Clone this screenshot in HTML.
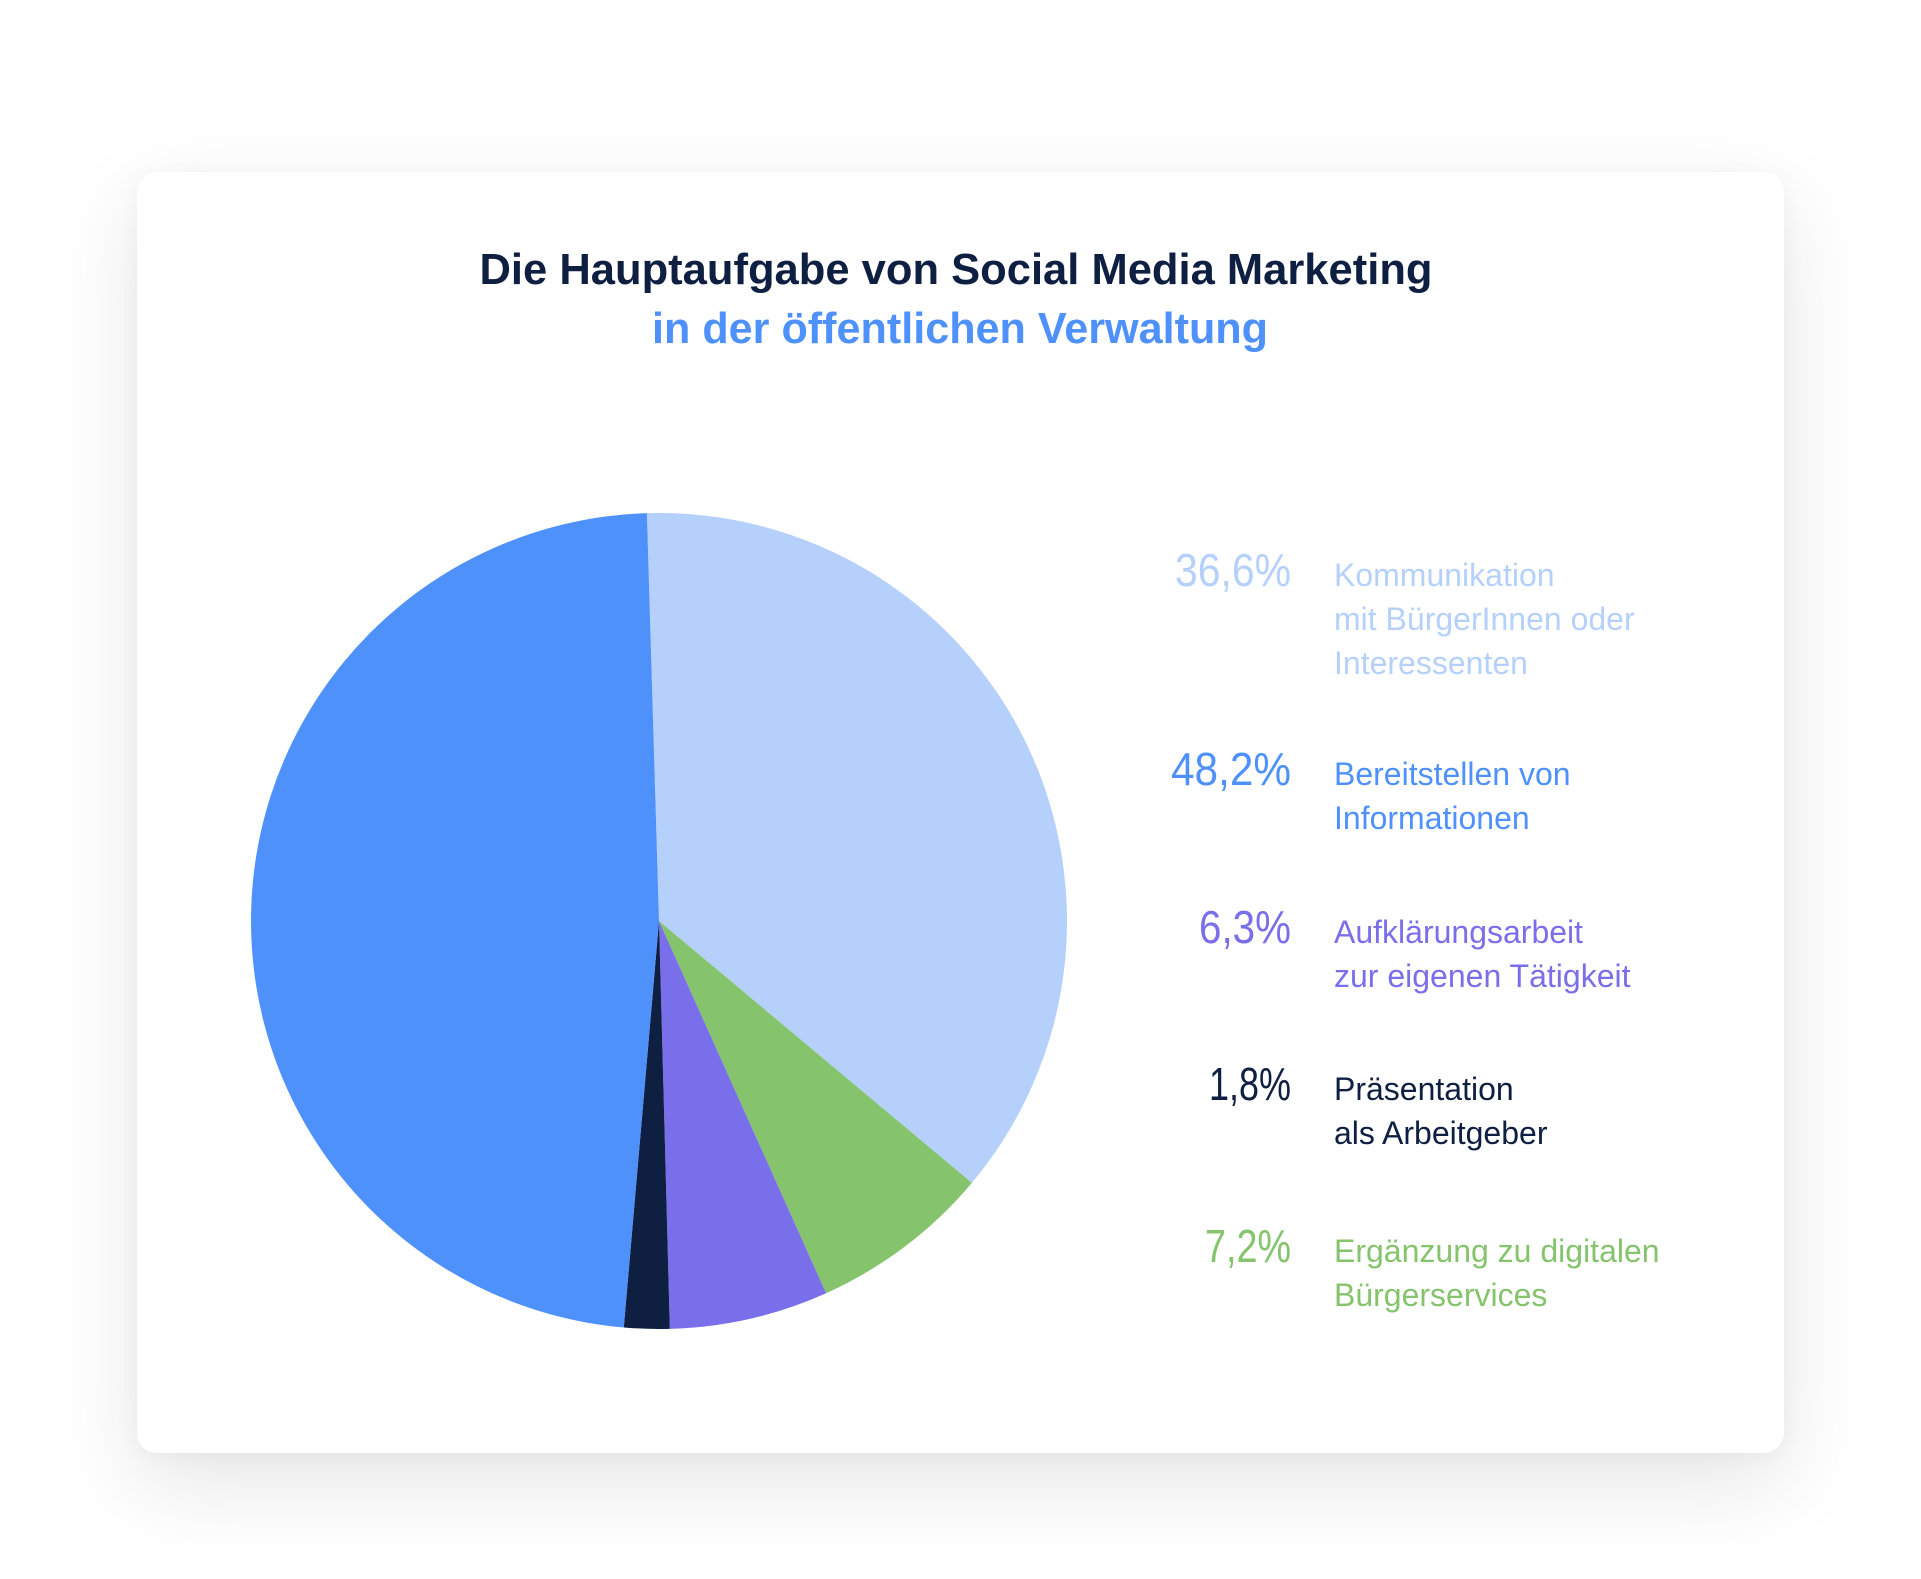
<!DOCTYPE html>
<html><head><meta charset="utf-8"><style>
html,body{margin:0;padding:0;background:#fff;}
body{width:1921px;height:1579px;position:relative;overflow:hidden;font-family:"Liberation Sans",sans-serif;}
#card{position:absolute;left:137px;top:172px;width:1647px;height:1281px;background:#fff;border-radius:20px;box-shadow:0 30px 90px rgba(0,0,0,0.10),0 4px 20px rgba(0,0,0,0.04);}
svg{position:absolute;left:0;top:0;}
</style></head><body>
<div id="card"></div>
<svg id="chart" width="1921" height="1579">
<text x="956" y="284" text-anchor="middle" font-family="Liberation Sans, sans-serif" font-weight="bold" font-size="44" fill="#0e1f42" textLength="953" lengthAdjust="spacingAndGlyphs">Die Hauptaufgabe von Social Media Marketing</text>
<text x="960" y="343" text-anchor="middle" font-family="Liberation Sans, sans-serif" font-weight="bold" font-size="44" fill="#4f91fb" textLength="616" lengthAdjust="spacingAndGlyphs">in der öffentlichen Verwaltung</text>
<g id="slices"></g>
<g id="legend"></g>
</svg>
<script>
const categories = ["Kommunikation|mit BürgerInnen oder|Interessenten","Ergänzung zu digitalen|Bürgerservices","Aufklärungsarbeit|zur eigenen Tätigkeit","Präsentation|als Arbeitgeber","Bereitstellen von|Informationen"];
const values = [36.6, 7.2, 6.3, 1.8, 48.2];
const valueLabels = ["36,6%","7,2%","6,3%","1,8%","48,2%"];
const colors = ["#b5d1fb","#85c46c","#7a6fea","#0e1f42","#4f91fb"];
const legendOrder = [0,4,2,3,1];
const NS="http://www.w3.org/2000/svg";
const cx=659, cy=921, r=408, startDeg=-1.7;
const total=values.reduce((a,b)=>a+b,0);
function angle(v){return (startDeg + v/total*360)*Math.PI/180;}
function pt(a){return [cx+r*Math.sin(a), cy-r*Math.cos(a)];}
const g=document.getElementById('slices');
let acc=0;
values.forEach((v,i)=>{
  const a0=angle(acc), a1=angle(acc+v); acc+=v;
  const p0=pt(a0), p1=pt(a1);
  const large=(a1-a0)>Math.PI?1:0;
  const p=document.createElementNS(NS,'path');
  p.setAttribute('d',`M${cx},${cy} L${p0[0]},${p0[1]} A${r},${r} 0 ${large} 1 ${p1[0]},${p1[1]} Z`);
  p.setAttribute('fill',colors[i]);
  
  
  g.appendChild(p);
});
const lg=document.getElementById('legend');
const rowY=[586,785,943,1100,1262];
const pctW={"36,6%":116,"48,2%":120,"6,3%":92,"1,8%":82,"7,2%":86};
legendOrder.forEach((idx,row)=>{
  const y=rowY[row];
  const t=document.createElementNS(NS,'text');
  t.setAttribute('x',1291); t.setAttribute('y',y);
  t.setAttribute('text-anchor','end');
  t.setAttribute('font-size','46');
  t.setAttribute('fill',colors[idx]);
  t.setAttribute('font-family','Liberation Sans, sans-serif');
  t.setAttribute('textLength',pctW[valueLabels[idx]]||110);
  t.setAttribute('lengthAdjust','spacingAndGlyphs');
  t.textContent=valueLabels[idx];
  
  
  lg.appendChild(t);
  categories[idx].split('|').forEach((line,k)=>{
    const l=document.createElementNS(NS,'text');
    l.setAttribute('x',1334); l.setAttribute('y',y+k*44);
    l.setAttribute('font-size','32');
    l.setAttribute('fill',colors[idx]);
    l.setAttribute('font-family','Liberation Sans, sans-serif');
    l.textContent=line;
    
    
    lg.appendChild(l);
  });
});
</script>
</body></html>
